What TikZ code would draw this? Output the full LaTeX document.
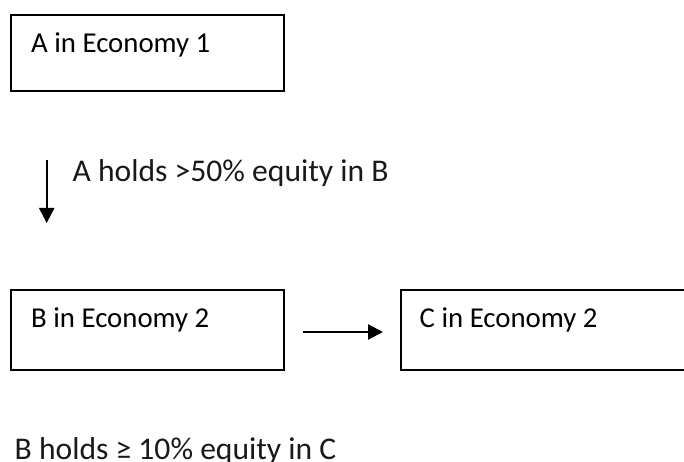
\documentclass[tikz,border=0pt]{standalone}
\usepackage{fontspec}
\setmainfont{Carlito}
\usetikzlibrary{arrows.meta}
\begin{document}
\begin{tikzpicture}[x=1bp,y=-1bp,
  box/.style={draw=black, line width=1.6bp, rectangle, inner sep=0pt, anchor=north west},
  boxtext/.style={anchor=base west, inner sep=0pt, font=\fontsize{28.8bp}{34bp}\selectfont, text=black},
  labeltext/.style={anchor=base west, inner sep=0pt, font=\fontsize{31.6bp}{38bp}\selectfont, text=black!90},
  link/.style={draw=black, line width=2.2bp, -{Triangle[width=15bp,length=15bp]}}]
\useasboundingbox (0,0) rectangle (684,462);
\clip (0,0) rectangle (684,462);
% boxes
\node[box, minimum width=273bp, minimum height=76bp] (boxA) at (10,14) {};
\node[box, minimum width=273bp, minimum height=80bp] (boxB) at (10,289) {};
\node[box, minimum width=300bp, minimum height=80bp] (boxC) at (400,289) {};
% box texts
\node[boxtext] (textA) at (31,53) {A in Economy 1};
\node[boxtext] (textB) at (31,328) {B in Economy 2};
\node[boxtext] (textC) at (419.5,328) {C in Economy 2};
% labels
\node[labeltext] (labAB) at (72.5,182) {A holds >50\% equity in B};
\node[labeltext] (labBC) at (14.5,459) {B holds ≥ 10\% equity in C};
% arrows
\coordinate (v1) at (46.7,160);
\coordinate (v2) at (46.7,223);
\coordinate (h1) at (303,332);
\coordinate (h2) at (383,332);
\draw[link] (v1) -- (v2);
\draw[link] (h1) -- (h2);
\end{tikzpicture}
\end{document}
